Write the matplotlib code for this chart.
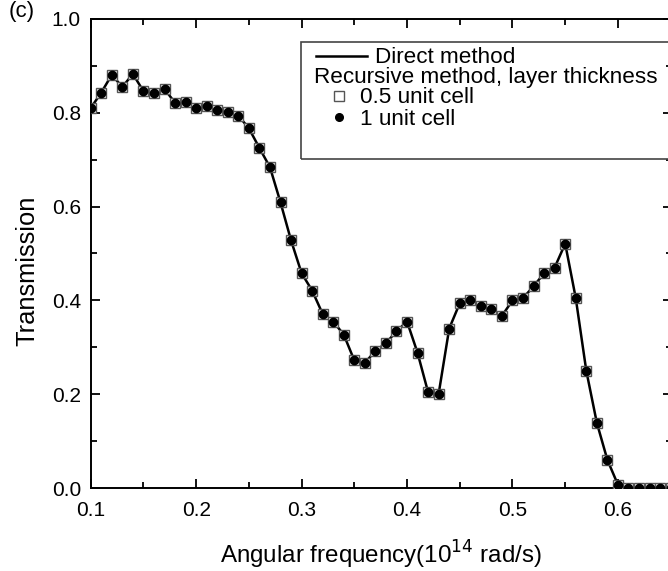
import matplotlib
matplotlib.use("Agg")
import matplotlib.pyplot as plt
from matplotlib.patches import Rectangle
from matplotlib.ticker import MultipleLocator

plt.rcParams["font.family"] = ["Liberation Sans", "DejaVu Sans"]

# ---------------------------------------------------------------------------
# Data (transmission vs angular frequency)
# ---------------------------------------------------------------------------
freq = [0.10, 0.11, 0.12, 0.13, 0.14, 0.15, 0.16, 0.17, 0.18, 0.19,
        0.20, 0.21, 0.22, 0.23, 0.24, 0.25, 0.26, 0.27, 0.28, 0.29,
        0.30, 0.31, 0.32, 0.33, 0.34, 0.35, 0.36, 0.37, 0.38, 0.39,
        0.40, 0.41, 0.42, 0.43, 0.44, 0.45, 0.46, 0.47, 0.48, 0.49,
        0.50, 0.51, 0.52, 0.53, 0.54, 0.55, 0.56, 0.57, 0.58, 0.59,
        0.60, 0.61, 0.62, 0.63, 0.64, 0.65]
trans_direct = [0.810, 0.843, 0.881, 0.855, 0.883, 0.846, 0.843, 0.851, 0.821, 0.822,
                0.811, 0.815, 0.806, 0.801, 0.794, 0.767, 0.725, 0.684, 0.609, 0.528,
                0.458, 0.421, 0.371, 0.355, 0.327, 0.272, 0.267, 0.292, 0.309, 0.334,
                0.355, 0.288, 0.204, 0.201, 0.340, 0.394, 0.400, 0.387, 0.381, 0.367,
                0.400, 0.405, 0.430, 0.458, 0.470, 0.521, 0.405, 0.250, 0.139, 0.060,
                0.007, 0.001, 0.000, 0.000, 0.000, 0.000]
# recursive method results coincide with the direct method at every point
trans_half_cell = list(trans_direct)
trans_one_cell = list(trans_direct)

x_ticks = [0.1, 0.2, 0.3, 0.4, 0.5, 0.6]
y_ticks = [0.0, 0.2, 0.4, 0.6, 0.8, 1.0]

W, H = 668, 571
AX_L, AX_B, AX_W, AX_H = 90.7, 488, 581, 469     # axes box in pixels


def fx(px):
    return px / W


def fy(py):
    return 1 - py / H


fig = plt.figure(figsize=(W / 100, H / 100), dpi=100)
ax = fig.add_axes([fx(AX_L), fy(AX_B), AX_W / W, AX_H / H])

ax.plot(freq, trans_direct, "-", color="black", lw=1.8, zorder=2)
ax.plot(freq, trans_half_cell, "s", ls="none", ms=7.5, mfc="white",
        mec="#555555", mew=1.0, zorder=3)
ax.plot(freq, trans_one_cell, "o", ls="none", ms=6.0, mfc="black",
        mec="black", zorder=4)

ax.set_xlim(0.1, 0.651)
ax.set_ylim(0.0, 1.0)
ax.set_xticks(x_ticks)
ax.set_yticks(y_ticks)
ax.set_xticklabels([f"{v:.1f}" for v in x_ticks])
ax.set_yticklabels([f"{v:.1f}" for v in y_ticks])
ax.xaxis.set_minor_locator(MultipleLocator(0.05))
ax.yaxis.set_minor_locator(MultipleLocator(0.1))
ax.tick_params(which="both", direction="in", top=True, right=True,
               width=1.3, labelsize=15)
ax.tick_params(which="major", length=6.5)
ax.tick_params(which="minor", length=4)
ax.tick_params(axis="x", pad=9)
ax.tick_params(axis="y", pad=7)
for sp in ax.spines.values():
    sp.set_linewidth(1.4)

ax.set_xlabel("Angular frequency(10$^{14}$ rad/s)", fontsize=17.4)
ax.xaxis.label.set_va("baseline")
ax.xaxis.set_label_coords(0.5, (AX_B - 564) / AX_H)
ax.set_ylabel("Transmission", fontsize=18.4)
ax.yaxis.label.set_va("baseline")
ax.yaxis.set_label_coords((34 - AX_L) / AX_W, (AX_B - 271) / AX_H)

fig.text(fx(9), fy(12), "(c)", fontsize=16, va="center", ha="left")

# ---------------------------------------------------------------------------
# Legend drawn by hand (Origin-style, text rows not aligned)
# ---------------------------------------------------------------------------
fig.patches.append(Rectangle((fx(300.7), fy(159)), fx(680) - fx(300.7),
                             fy(41.7) - fy(159), transform=fig.transFigure,
                             fill=False, ec="#444444", lw=1.2))
fig.lines.append(plt.Line2D([fx(316), fx(367)], [fy(55.5), fy(55.5)],
                            transform=fig.transFigure, color="black", lw=1.8))
fig.lines.append(plt.Line2D([fx(339.3)], [fy(96)], transform=fig.transFigure,
                            marker="s", ms=7.0, mfc="white", mec="#555555",
                            mew=1.0, ls="none"))
fig.lines.append(plt.Line2D([fx(339.3)], [fy(117)], transform=fig.transFigure,
                            marker="o", ms=5.5, mfc="black", mec="black",
                            ls="none"))
leg_fs = 16.2
fig.text(fx(375), fy(63.3), "Direct method", fontsize=leg_fs, va="baseline")
fig.text(fx(314.5), fy(83.3), "Recursive method, layer thickness",
         fontsize=leg_fs, va="baseline")
fig.text(fx(360.5), fy(103.3), "0.5 unit cell", fontsize=leg_fs, va="baseline")
fig.text(fx(360.5), fy(125), "1 unit cell", fontsize=leg_fs, va="baseline")

fig.savefig("out.png", dpi=100)
